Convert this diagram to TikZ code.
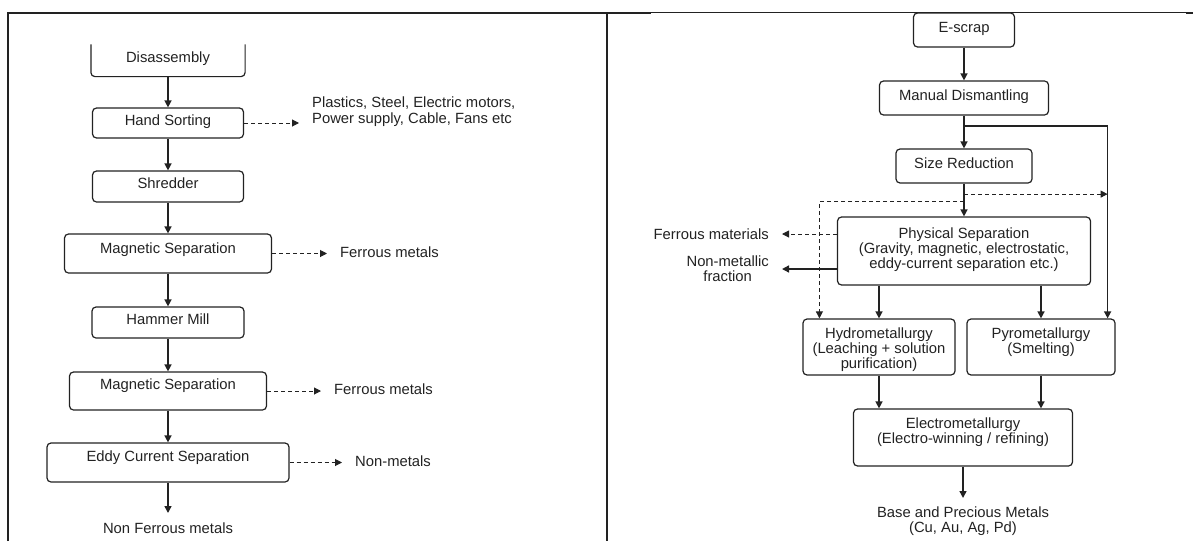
\documentclass[tikz,border=0pt]{standalone}
\usepackage{fontspec}
\setmainfont{Liberation Sans}
\usepackage{xcolor}
\usepackage{tikz}
\usetikzlibrary{arrows.meta,calc}
\definecolor{ink}{HTML}{222222}

\begin{document}
\begin{tikzpicture}[x=1pt,y=-1pt,font=\fontsize{14.8}{15}\selectfont,text=ink,
  box/.style={draw=ink,line width=1.2pt,rounded corners=4pt,inner sep=0pt,align=center},
  flow/.style={draw=ink,line width=1.4pt,-{Triangle[length=7pt,width=7pt]}},
  dflow/.style={flow,line width=1pt,dash pattern=on 4pt off 3pt},
  side/.style={inner ysep=0pt,inner xsep=13pt,align=center}]
\useasboundingbox (0,0) rectangle (1193,541);

\draw[ink,line width=2pt] (8,541)--(8,13)--(651,13);
\draw[ink,line width=1pt] (651,12.5)--(1193,12.5);
\draw[ink,line width=2pt] (1186,12.5)--(1193,12.5);
\draw[ink,line width=2pt] (607,13)--(607,541);

\node[box,draw=none,minimum width=153pt,text height=17pt,text depth=14pt] (dis) at (168,60.5) {Disassembly};
\draw[ink,line width=1.2pt,rounded corners=4pt] (dis.north west)--(dis.south west)--(dis.south east)--(dis.north east);
\node[box,minimum width=151pt,text height=17pt,text depth=13pt] (hs) at (168,123) {Hand Sorting};
\node[box,minimum width=151pt,text height=17pt,text depth=14pt] (sh) at (168,186.5) {Shredder};
\node[box,minimum width=207pt,text height=19pt,text depth=20pt] (ms1) at (168,253.5) {Magnetic Separation};
\node[box,minimum width=152pt,text height=17pt,text depth=14pt] (hm) at (168,322.5) {Hammer Mill};
\node[box,minimum width=197pt,text height=17pt,text depth=21pt] (ms2) at (168,391) {Magnetic Separation};
\node[box,minimum width=242pt,text height=18pt,text depth=21pt] (ec) at (168,462.5) {Eddy Current Separation};
\node[inner xsep=0pt,inner ysep=10pt,anchor=north] (nfm) at (168,513) {Non Ferrous metals};

\node[side,anchor=north west,align=left,font=\fontsize{14.8}{16}\selectfont] (pl) at (299,97) {Plastics, Steel, Electric motors,\\Power supply, Cable, Fans etc};
\node[side,anchor=west] (fm1) at (327,252) {Ferrous metals};
\node[side,anchor=west] (fm2) at (321,389) {Ferrous metals};
\node[side,anchor=west] (nm) at (342,461) {Non-metals};

\draw[flow] (dis)--(hs);
\draw[flow] (hs)--(sh);
\draw[flow] (sh)--(ms1);
\draw[flow] (ms1)--(hm);
\draw[flow] (hm)--(ms2);
\draw[flow] (ms2)--(ec);
\draw[flow] (ec)--(nfm);
\draw[dflow] (hs)--(hs-|pl.west);
\draw[dflow] (ms1)--(ms1-|fm1.west);
\draw[dflow] (ms2)--(ms2-|fm2.west);
\draw[dflow] (ec)--(ec-|nm.west);

\node[box,minimum width=101pt,text height=19pt,text depth=15pt] (escrap) at (964,30) {E-scrap};
\node[box,minimum width=169pt,text height=19pt,text depth=15pt] (manual) at (964,98) {Manual Dismantling};
\node[box,minimum width=136pt,text height=19pt,text depth=15pt] (size) at (964,166) {Size Reduction};
\node[box,minimum width=253pt,text height=51pt,text depth=17pt] (phys) at (964,251) {Physical Separation\\(Gravity, magnetic, electrostatic,\\eddy-current separation etc.)};
\node[box,minimum width=152pt,text height=49pt,text depth=7pt] (hydro) at (879,347) {Hydrometallurgy\\(Leaching + solution\\purification)};
\node[box,minimum width=148pt,text height=34pt,text depth=22pt] (pyro) at (1041,347) {Pyrometallurgy\\(Smelting)};
\node[box,minimum width=219pt,text height=34pt,text depth=23pt] (electro) at (963,437.5) {Electrometallurgy\\(Electro-winning / refining)};
\node[inner xsep=0pt,inner ysep=9pt,anchor=north,align=center] (base) at (963,498) {Base and Precious Metals\\(Cu, Au, Ag, Pd)};
\node[side,anchor=east] (fmat) at (782,234) {Ferrous materials};
\node[side,anchor=east] (nmf) at (782,269) {Non-metallic\\fraction};

\coordinate (br1) at ($(manual.south)!0.32!(size.north)$);
\coordinate (br2) at ($(size.south)!0.32!(phys.north)$);
\coordinate (br3) at ($(size.south)!0.56!(phys.north)$);
\coordinate (rx) at ($(pyro.north east)+(-8,0)$);
\coordinate (lx) at ($(hydro.north west)+(17,0)$);

\draw[flow] (escrap)--(manual);
\draw[flow] (manual)--(size);
\draw[flow] (size)--(phys);
\draw[flow] (br1)-|(rx);
\draw[dflow] (br2)--(br2-|rx);
\draw[dflow] (br3)-|(lx);
\draw[dflow] (phys.west|-fmat)--(fmat);
\draw[flow] (phys.west|-nmf.east)--(nmf.east);
\draw[flow] (phys.south-|hydro)--(hydro);
\draw[flow] (phys.south-|pyro)--(pyro);
\draw[flow] (hydro)--(hydro|-electro.north);
\draw[flow] (pyro)--(pyro|-electro.north);
\draw[flow] (electro)--(base);
\end{tikzpicture}
\end{document}
